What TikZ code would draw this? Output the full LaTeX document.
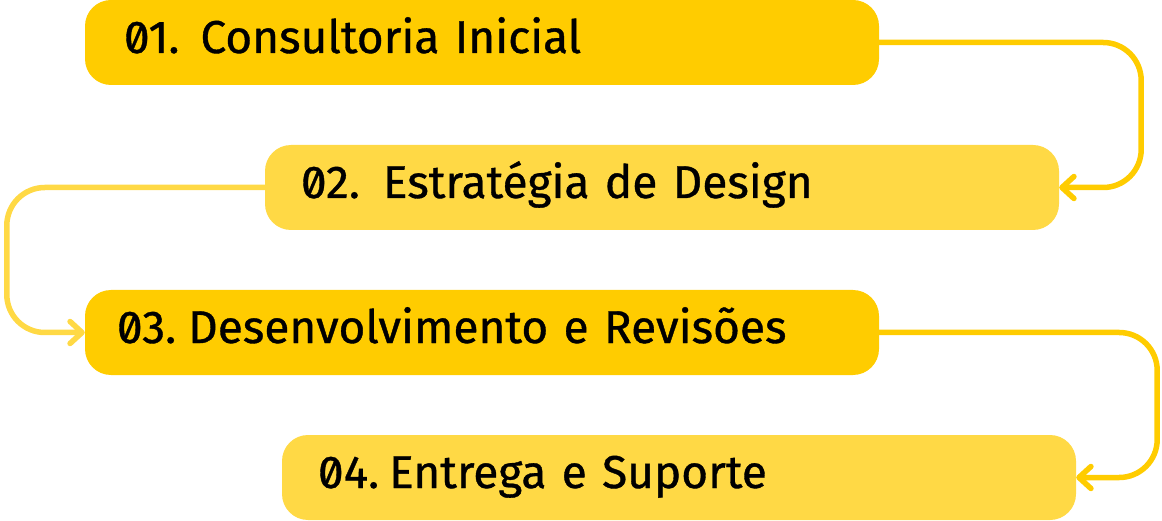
\documentclass[tikz,border=0pt]{standalone}
\usepackage{fontspec}
\setmainfont{Fira Sans}[Numbers=SlashedZero,FakeBold=0.8]
\usetikzlibrary{arrows.meta}
\definecolor{gelb}{HTML}{FFCC00}
\definecolor{hellgelb}{HTML}{FFD945}

\begin{document}
\begin{tikzpicture}[x=1pt,y=-1pt,
	schritt/.style={rounded corners=26pt,text height=53pt,text depth=32pt,text width=722pt,
		inner xsep=36pt,inner ysep=0pt,align=left,font=\fontsize{46}{50}\selectfont},
	pfeil/.style={line width=5.5pt,rounded corners=38pt,line cap=round,
		-{Straight Barb[length=12pt,width=22pt,line cap=round,line join=round]}}]
\useasboundingbox (0,0) rectangle (1162,521);

\node[schritt,fill=gelb] (s1) at (482,42.5) {\hspace{3pt}01.\hspace{21pt}Consultoria Inicial};
\node[schritt,fill=hellgelb] (s2) at (662,187.5) {02.\hspace{23pt}Estratégia de Design};
\node[schritt,fill=gelb] (s3) at (482,332.5) {\hspace{-4pt}03.\hspace{12pt}Desenvolvimento e Revisões};
\node[schritt,fill=hellgelb] (s4) at (679,477.5) {04.\hspace{10pt}Entrega e Suporte};

\draw[pfeil,color=gelb] (s1.east) -- ++(262,0) |- (s2.east);
\draw[pfeil,color=hellgelb] (s2.west) -- ++(-258,0) |- (s3.west);
\draw[pfeil,color=gelb] (s3.east) -- ++(278,0) |- (s4.east);

\end{tikzpicture}
\end{document}
